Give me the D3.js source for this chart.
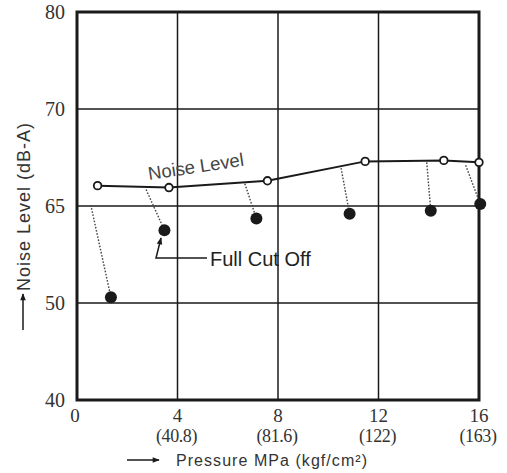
<!DOCTYPE html>
<html><head><meta charset="utf-8">
<script src="https://cdn.jsdelivr.net/npm/d3@7"></script>
<style>body{margin:0;background:#fff}svg{display:block}</style>
</head><body>
<script>
// Data (y values in the chart's linear grid units; gridline at 60 is labelled "65")
const xTicks = [0, 4, 8, 12, 16];
const xTickLabels = ["0", "4", "8", "12", "16"];
const xTickSub = ["", "(40.8)", "(81.6)", "(122)", "(163)"];
const yTicks = [40, 50, 60, 70, 80];
const yTickLabels = ["40", "50", "65", "70", "80"];
const noiseX = [0.82, 3.66, 7.58, 11.47, 14.6, 16.0];
const noiseY = [62.1, 61.9, 62.6, 64.6, 64.7, 64.5];
const cutX = [1.35, 3.48, 7.14, 10.85, 14.08, 16.05];
const cutY = [50.6, 57.5, 58.7, 59.2, 59.5, 60.2];
const leadX = [0.55, 2.75, 6.68, 10.51, 13.92, 15.47];
const leadY = [60.1, 61.7, 62.3, 63.9, 64.5, 64.2];

const W = 507, H = 473;
const svg = d3.select("body").append("svg").attr("width", W).attr("height", H);
const x = d3.scaleLinear().domain([0, 16]).range([77, 479]);
const y = d3.scaleLinear().domain([40, 80]).range([400, 12]);
const ink = "#1a1a1a";
const serif = "Liberation Serif, Times New Roman, serif";
const sans = "Liberation Sans, Arial, sans-serif";

// grid
const g = svg.append("g");
g.selectAll(".vg").data(xTicks.slice(1, 4)).join("line")
  .attr("x1", d => x(d)).attr("x2", d => x(d)).attr("y1", y(80)).attr("y2", y(40))
  .attr("stroke", ink).attr("stroke-width", 1.5);
g.selectAll(".hg").data(yTicks.slice(1, 4)).join("line")
  .attr("x1", x(0)).attr("x2", x(16)).attr("y1", d => y(d)).attr("y2", d => y(d))
  .attr("stroke", ink).attr("stroke-width", 1.5);
// frame
g.append("rect").attr("x", x(0)).attr("y", y(80)).attr("width", x(16) - x(0)).attr("height", y(40) - y(80))
  .attr("fill", "none").attr("stroke", ink).attr("stroke-width", 3);

// y tick labels
svg.append("g").selectAll("text").data(yTicks).join("text")
  .attr("x", 65).attr("y", d => y(d)).attr("dy", "0.33em").attr("text-anchor", "end")
  .attr("font-family", serif).attr("font-size", 20).attr("fill", "#333")
  .text((d, i) => yTickLabels[i]);
// x tick labels
svg.append("g").selectAll("text").data(xTicks).join("text")
  .attr("x", d => d === 0 ? x(d) - 2 : x(d)).attr("y", 422).attr("text-anchor", "middle")
  .attr("font-family", serif).attr("font-size", 19).attr("fill", "#333")
  .text((d, i) => xTickLabels[i]);
svg.append("g").selectAll("text").data(xTicks).join("text")
  .attr("x", d => x(d) - 1).attr("y", 442).attr("text-anchor", "middle")
  .attr("font-family", serif).attr("font-size", 18).attr("fill", "#333")
  .attr("letter-spacing", -0.4)
  .text((d, i) => xTickSub[i]);

// arrow marker
const defs = svg.append("defs");
defs.append("marker").attr("id", "ah").attr("viewBox", "0 0 10 10").attr("refX", 9).attr("refY", 5)
  .attr("markerWidth", 8).attr("markerHeight", 7).attr("markerUnits", "userSpaceOnUse").attr("orient", "auto")
  .append("path").attr("d", "M0,1 L10,5 L0,9 Z").attr("fill", ink);

// y title
svg.append("line").attr("x1", 23).attr("x2", 23).attr("y1", 330).attr("y2", 294)
  .attr("stroke", ink).attr("stroke-width", 1.5).attr("marker-end", "url(#ah)");
svg.append("text").attr("transform", "translate(29.5,291) rotate(-90)")
  .attr("font-family", sans).attr("font-size", 18).attr("fill", "#333")
  .attr("textLength", 168).attr("lengthAdjust", "spacing")
  .text("Noise Level  (dB-A)");

// x title
svg.append("line").attr("x1", 127).attr("x2", 159).attr("y1", 460).attr("y2", 460)
  .attr("stroke", ink).attr("stroke-width", 1.5).attr("marker-end", "url(#ah)");
svg.append("text").attr("x", 176).attr("y", 466)
  .attr("font-family", sans).attr("font-size", 16).attr("fill", "#333")
  .attr("textLength", 191).attr("lengthAdjust", "spacing")
  .text("Pressure MPa (kgf/cm\u00B2)");

// leader dotted lines
svg.append("g").selectAll("line").data(cutX).join("line")
  .attr("x1", (d, i) => x(leadX[i])).attr("y1", (d, i) => y(leadY[i]))
  .attr("x2", (d, i) => x(d)).attr("y2", (d, i) => y(cutY[i]))
  .attr("stroke", "#444").attr("stroke-width", 1.4).attr("stroke-dasharray", "1.6,1.6");

// noise line
const pts = noiseX.map((d, i) => [d, noiseY[i]]);
svg.append("path").datum(pts)
  .attr("d", d3.line().x(d => x(d[0])).y(d => y(d[1])))
  .attr("fill", "none").attr("stroke", ink).attr("stroke-width", 2);
svg.append("g").selectAll("circle").data(pts).join("circle")
  .attr("cx", d => x(d[0])).attr("cy", d => y(d[1])).attr("r", 3.8)
  .attr("fill", "#fff").attr("stroke", ink).attr("stroke-width", 1.8);

// full cut off dots
svg.append("g").selectAll("circle").data(cutX).join("circle")
  .attr("cx", d => x(d)).attr("cy", (d, i) => y(cutY[i])).attr("r", 6)
  .attr("fill", ink);

// Noise Level label
svg.append("text").attr("transform", "translate(149,180) rotate(-8.5)")
  .attr("font-family", sans).attr("font-size", 18.5).attr("fill", "#444")
  .text("Noise Level");

// Full Cut Off annotation
svg.append("path")
  .attr("d", `M${207},${258} L${156},${258} L${161},${238}`)
  .attr("fill", "none").attr("stroke", ink).attr("stroke-width", 1.5).attr("marker-end", "url(#ah)");
svg.append("text").attr("x", 210).attr("y", 266)
  .attr("font-family", sans).attr("font-size", 20).attr("fill", "#222")
  .text("Full Cut Off");
</script>
</body></html>
